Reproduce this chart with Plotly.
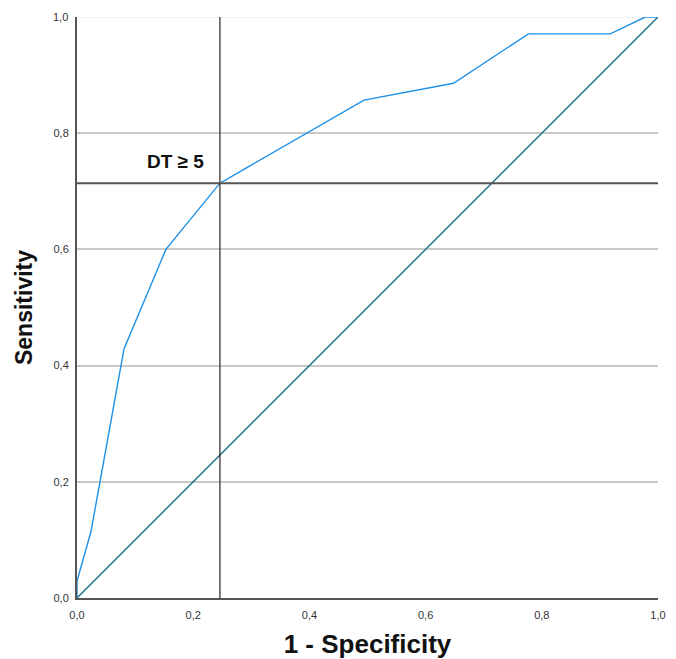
import plotly.graph_objects as go

fpr = [0.0, 0.0, 0.024, 0.081, 0.153, 0.246, 0.494, 0.648, 0.777, 0.918, 0.978, 1.0]
tpr = [0.0, 0.029, 0.114, 0.429, 0.600, 0.714, 0.857, 0.886, 0.971, 0.971, 1.0, 1.0]
diag = [0.0, 1.0]
cut_x = 0.246
cut_y = 0.714
tick_vals = [0.0, 0.2, 0.4, 0.6, 0.8, 1.0]
tick_text = ["0,0", "0,2", "0,4", "0,6", "0,8", "1,0"]
label = "DT ≥ 5"

fig = go.Figure()
fig.add_trace(go.Scatter(x=diag, y=diag, mode="lines",
                         line=dict(color="#1c6e78", width=1.4), showlegend=False))
fig.add_trace(go.Scatter(x=fpr, y=tpr, mode="lines",
                         line=dict(color="#1e90e6", width=1.4), showlegend=False))

fig.add_shape(type="line", xref="x", yref="y", x0=cut_x, x1=cut_x, y0=0, y1=1,
              line=dict(color="#333333", width=1.3), layer="above")
fig.add_shape(type="line", xref="x", yref="y", x0=0, x1=1, y0=cut_y, y1=cut_y,
              line=dict(color="#555555", width=2), layer="above")
fig.add_shape(type="line", xref="x", yref="y", x0=0, x1=1, y0=1, y1=1,
              line=dict(color="#e8e8e8", width=1.2), layer="below")

fig.add_annotation(x=0.222, y=0.752, xref="x", yref="y", text="<b>" + label + "</b>",
                   showarrow=False, xanchor="right", yanchor="middle",
                   font=dict(size=19, color="#111111", family="Liberation Sans, Arial"))

fig.update_layout(
    width=668, height=651,
    margin=dict(l=69, r=18, t=9, b=61, autoexpand=False),
    paper_bgcolor="white", plot_bgcolor="white",
    separators=",.",
    font=dict(family="Liberation Sans, Arial", color="#222222"),
    xaxis=dict(range=[0, 1], tickvals=tick_vals, ticktext=tick_text, automargin=False,
               showgrid=False, zeroline=False, showline=True, linecolor="#555555",
               linewidth=2, ticks="", ticklabelstandoff=6,
               tickfont=dict(size=11, color="#333333"),
               title=dict(text="<b>1 - Specificity</b>", font=dict(size=26, color="#111111"),
                          standoff=17)),
    yaxis=dict(range=[0, 1], tickvals=tick_vals[:-1], ticktext=tick_text[:-1], automargin=False,
               showgrid=True, gridcolor="#c8c8c8", gridwidth=1.5,
               zeroline=False, showline=True, linecolor="#555555",
               linewidth=2, ticks="", ticklabelstandoff=4,
               tickfont=dict(size=11, color="#333333"),
               title=dict(text="<b>Sensitivity</b>", font=dict(size=23, color="#111111"),
                          standoff=14)),
)
fig.add_annotation(x=0, y=1, xref="paper", yref="y", text="1,0", showarrow=False,
                   xanchor="right", yanchor="middle", xshift=-7,
                   font=dict(size=11, color="#333333"))
fig.write_html("out.html")
